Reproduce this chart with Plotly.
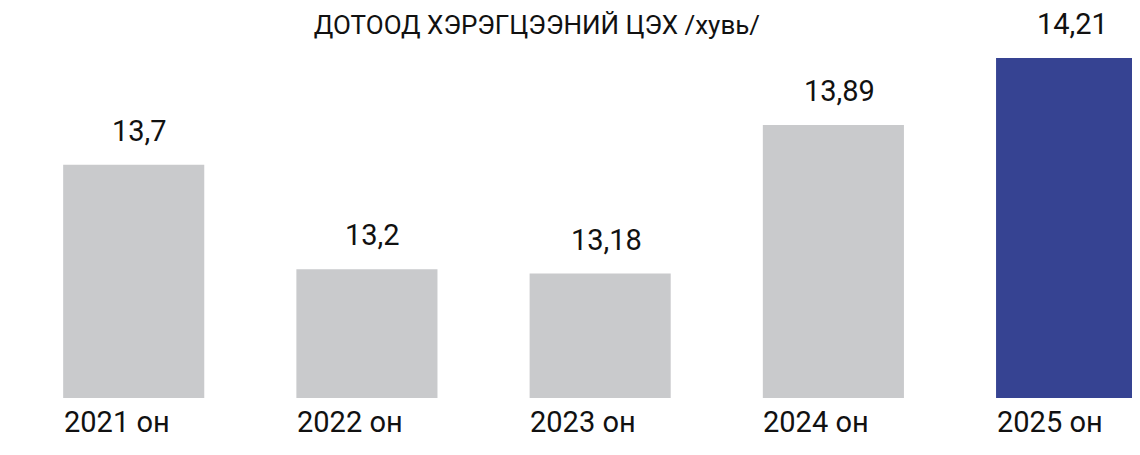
import plotly.graph_objects as go

categories = ["2021 он", "2022 он", "2023 он", "2024 он", "2025 он"]
values = [13.7, 13.2, 13.18, 13.89, 14.21]
value_labels = ["13,7", "13,2", "13,18", "13,89", "14,21"]
title_text = "ДОТООД ХЭРЭГЦЭЭНИЙ ЦЭХ /хувь/"

GRAY = "#C9CACC"
BLUE = "#364392"
colors = [GRAY, GRAY, GRAY, GRAY, BLUE]
FONT = "Roboto"
TEXT = "#111111"

fig = go.Figure()
fig.add_trace(go.Bar(
    x=categories, y=values, marker=dict(color=colors, line=dict(width=0)),
    width=0.605, hoverinfo="skip",
))

for c, v, t in zip(categories, values, value_labels):
    fig.add_annotation(x=c, y=v, text=t, showarrow=False, xanchor="center",
                       yanchor="bottom", yshift=15, xshift=6,
                       font=dict(family=FONT, size=29, color=TEXT))
    fig.add_annotation(x=c, y=0, yref="paper", text=c, showarrow=False,
                       xanchor="left", yanchor="top", xshift=-72, yshift=-5,
                       font=dict(family=FONT, size=29, color=TEXT))

# page body has an 8px default margin; offsets below compensate for it
fig.update_layout(
    width=1140, height=455,
    margin=dict(l=0, r=0, t=50, b=65, pad=0),
    paper_bgcolor="white", plot_bgcolor="white",
    showlegend=False,
    title=dict(text=title_text, x=0.464, xanchor="center", xref="paper",
               y=1 - 17 / 455, yanchor="middle", yref="container",
               font=dict(family=FONT, size=26, color=TEXT)),
    xaxis=dict(type="category", range=[-0.539, 4.349], showticklabels=False,
               showgrid=False, zeroline=False, showline=False, ticks=""),
    yaxis=dict(range=[12.585, 14.21], visible=False, showgrid=False,
               zeroline=False),
)

fig.write_html("out.html")
